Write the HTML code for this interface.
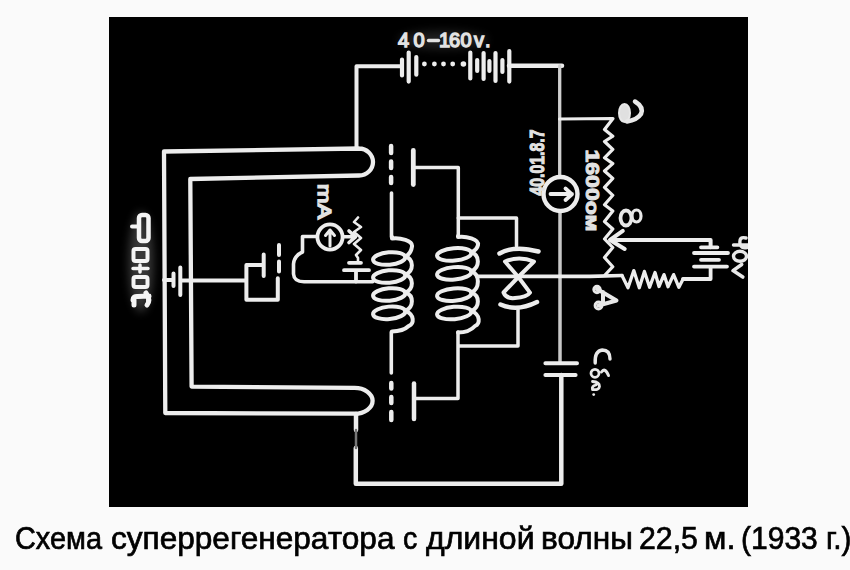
<!DOCTYPE html>
<html><head><meta charset="utf-8">
<style>
html,body{margin:0;padding:0;background:#fafafa;width:850px;height:570px;overflow:hidden}
#photo{position:absolute;left:109px;top:17px;width:639px;height:490px;background:#000}
svg{position:absolute;left:0;top:0}
.w{position:absolute;top:523px;font-family:"Liberation Sans",sans-serif;font-size:31.5px;white-space:nowrap;color:#000;line-height:1;transform-origin:0 0;-webkit-text-stroke:0.7px #000}
</style></head><body>
<div id="photo"></div>
<svg width="850" height="570" viewBox="0 0 850 570">
<g fill="none" stroke="#ededed" stroke-width="4" stroke-linecap="round" stroke-linejoin="round">
<path d="M356.5,149 V66.3 H401"/>
<path stroke-width="4.5" d="M509,65.8 H562"/><path stroke="#cfcfcf" stroke-width="3.3" d="M559.7,66 V176"/>
<path stroke="#c8c8c8" stroke-width="3.5" d="M560,211.5 V363"/><path stroke-width="4.5" d="M561.3,375 V483.8 H355.8 V448 M356,414 V430"/><path stroke="#777" stroke-width="2.5" d="M356,430 V448"/>
<path stroke-width="4.3" d="M359,148.5 L164,151.5 L165.3,413 L354.6,413.7 A18,12.9 0 0 0 354.6,387.9 L191.6,386.6 L190.3,179 L359,175.5 A14,13.5 0 0 0 359,148.5"/>
<path stroke-width="4.2" d="M402,59.5 V75.5 M408.7,52.5 V81.6 M416.3,57 V74.7 M470.3,52.5 V78.5 M477.2,60 V71 M483.6,53 V79 M489.4,61 V71 M495.5,53 V81 M502.4,60 V72 M509.3,51 V81.6"/>
<path stroke-width="4.5" d="M391.1,146 V153 M391.1,161.5 V168 M391.1,177 V183 "/><path stroke-width="3.6" d="M391.5,193 V237"/>
<path stroke-width="3.6" d="M391.3,332 V373"/><path stroke-width="4.5" d="M391.3,383 V388.5 M391.3,397 V403 M391.3,412 V420"/>
<path stroke-width="4.8" d="M413.3,150.5 V184.5"/><path stroke-width="3.5" d="M413.3,167.5 H458.3 V236"/>
<path stroke-width="3.5" d="M458.3,218 H516.5 V246.3"/>
<path stroke-width="4.5" d="M414,383.5 V419"/><path stroke-width="3.5" d="M414,398.4 H458 V346 H518 V309.5 M458,332 V346"/>
<path d="M392,237 V238.5 C400,237.5 413,240.5 412,246.5 C411,253.5 407.5,255.5 405.5,256.5"/>
<ellipse cx="389.2" cy="258.5" rx="16.2" ry="6.2" transform="rotate(-5 389.2 258.5)"/>
<path d="M405.5,256.5 C414,259.5 414,270.5 405.5,274.5"/>
<ellipse cx="389.2" cy="276.5" rx="16.2" ry="6.2" transform="rotate(-5 389.2 276.5)"/>
<path d="M405.5,274.5 C414,277.5 414,288.5 405.5,292.5"/>
<ellipse cx="389.2" cy="294.5" rx="16.2" ry="6.2" transform="rotate(-5 389.2 294.5)"/>
<path d="M405.5,292.5 C414,295.5 414,306.8 405.5,310.8"/>
<ellipse cx="389.2" cy="312.8" rx="16.2" ry="6.2" transform="rotate(-5 389.2 312.8)"/>
<path d="M405.5,310.8 C415,314.8 414,323.8 409,325.8 C404,330.5 396,331.5 392,331.5"/>

<path d="M458,236 V237 C466,236 479,239 478,245 C477,249.4 473.5,251.4 471.5,252.4"/>
<ellipse cx="454.2" cy="254.4" rx="17.2" ry="6.2" transform="rotate(-5 454.2 254.4)"/>
<path d="M471.5,252.4 C480,255.4 480,267.3 471.5,271.3"/>
<ellipse cx="454.2" cy="273.3" rx="17.2" ry="6.2" transform="rotate(-5 454.2 273.3)"/>
<path d="M471.5,271.3 C480,274.3 480,288.6 471.5,292.6"/>
<ellipse cx="454.2" cy="294.6" rx="17.2" ry="6.2" transform="rotate(-5 454.2 294.6)"/>
<path d="M471.5,292.6 C480,295.6 480,307 471.5,311"/>
<ellipse cx="454.2" cy="313.0" rx="17.2" ry="6.2" transform="rotate(-5 454.2 313.0)"/>
<path d="M471.5,311 C481,315 480,324 475,326 C470,331.6 462,332.6 458,332.6"/>

<path stroke-width="3.6" d="M478,276.4 H590 L622,275.5"/>
<path stroke-width="4.5" d="M499.5,253.5 Q514,245 538.5,251.5 M500.5,304.5 Q517,312 537,302"/>
<path stroke-width="4" d="M505,261.5 Q519,255.5 534,261.5 L518.3,277 Z M518.3,277 L503.5,292.5 Q506,299 515,298 Q527,297 530,292.6 Z"/>
<circle cx="560.5" cy="194" r="17" stroke-width="4.4"/>
<path stroke-width="3.8" d="M550.5,194 H572 M565.5,188.5 L572,194.3 L565.5,200"/>
<path stroke-width="3.2" d="M559.5,119 L613,118.5 L604.5,129.4 L612.8,136.2 L604.5,141.5 L612.8,149.4 L604.5,157.8 L612.8,163.6 L604.5,171 L612.8,178.4 L604.5,187.4 L612.8,195.3 L604.5,204.7 L612.8,211 L604.5,221.6 L612.8,229 L604.5,239 L612.8,247.5 L604.5,257.5 L612.8,266.7 L605,275"/>
<path d="M710.6,240 H610 M622.8,230.9 L610,240 L624.7,249 M710.6,240 V247.3"/>
<path stroke-width="3.8" d="M701,247.3 H717.4 M694,253 H728 M701,259.8 H719 M694,266.6 H727 M710.6,266.6 V279 H683"/>
<path stroke-width="3.3" d="M622,275.5 L628,287.8 L633.8,270.6 L639.3,287.8 L644.4,271.4 L649.6,287.3 L655,272.5 L659,286.5 L664,274.6 L668,286.8 L673.6,274.6 L678.9,287.3 L683,279.3"/>
<path stroke-width="4" d="M545.4,363.3 H577 M545.4,375 H575.6"/>
<path d="M164,280 H173.5 M173.5,273.6 V286 M180.3,267.5 V295 M180.3,280.5 H246.4 M262.5,265 H246.4 V299.7 H277.8 V278.2 M263.7,254.5 V276 M279,245 V255 M279,261.5 V271.5"/>
<circle cx="330" cy="237" r="12.6" stroke-width="3.8"/>
<path stroke-width="3" d="M330,246 V231 M325.5,235.5 L330,230 L334.5,235.5"/>
<path stroke-width="3.6" d="M317,236.5 H302.5 V252 Q294,256 293.5,264 V274 Q294,281.6 304,281.8 H372.7"/>
<path stroke-width="3.6" d="M343,236.8 H355 M349,231 L355.5,236.8 L349,242.5"/>
<path stroke-width="2.6" d="M358,217.5 L354,222 L361,227 L354,232 L361,238 L354,244 L361,250 L356,255 L358,258 V262.8"/>
<path stroke-width="3.8" d="M349,262.8 H361 M344,270.2 H369 M356,270.2 V281.6"/>
</g>
<g fill="#ededed"><circle cx="424.4" cy="64" r="2.4"/><circle cx="434.4" cy="64" r="2.4"/><circle cx="443.5" cy="64" r="2.4"/><circle cx="452.7" cy="64" r="2.4"/><circle cx="463.4" cy="64" r="2.8"/></g>
<defs><clipPath id="ph"><rect x="109" y="17" width="639" height="490"/></clipPath>
<filter id="glow" x="-50%" y="-50%" width="200%" height="200%"><feGaussianBlur stdDeviation="5"/></filter></defs>
<g clip-path="url(#ph)">
<ellipse cx="141" cy="262" rx="12" ry="50" fill="#fff" opacity="0.22" filter="url(#glow)"/>
<ellipse cx="443" cy="40" rx="45" ry="9" fill="#fff" opacity="0.12" filter="url(#glow)"/>
<g font-family="Liberation Sans" font-weight="bold" fill="#e2e2e2" stroke="#e2e2e2" stroke-width="0.6" text-anchor="middle" dominant-baseline="central">
<text x="398 413.5 439 449 460.5 474 485" y="39.5" text-anchor="start" font-size="20" font-weight="normal" stroke-width="1.4">40160v.</text>
<path d="M428.5,40.5 H438.5" stroke="#e2e2e2" stroke-width="3.4" stroke-linecap="round"/>
<text transform="translate(323.8,201.5) rotate(90) scale(1,0.8)" font-size="22" font-weight="normal" stroke-width="1.8" textLength="35" lengthAdjust="spacingAndGlyphs">mA</text>
<text transform="translate(536.2,162.5) rotate(-90)" font-size="21" stroke-width="1.1" textLength="66" lengthAdjust="spacingAndGlyphs">40.01.8.7</text>
<text transform="translate(592,190.5) rotate(90)" font-size="19" stroke-width="1" textLength="82" lengthAdjust="spacingAndGlyphs">1600ом</text>
</g>
<g fill="none" stroke="#e8e8e8" stroke-linecap="round" stroke-linejoin="round">
<!-- C label -->
<ellipse cx="624.5" cy="113" rx="5.5" ry="9" fill="#e0e0e0" stroke-width="2"/>
<path stroke-width="4.5" d="M635,101.5 Q644,107 641,114 Q637,120 627,121.5"/>
<!-- B label -->
<ellipse cx="626" cy="218" rx="5.5" ry="7.5" stroke-width="3.8"/>
<ellipse cx="636.5" cy="216" rx="4.5" ry="6" stroke-width="3.2"/>
<!-- A label -->
<path stroke-width="4" d="M597,289 L616.5,300.5 L598.5,305.5 M603,292 V302"/>
<circle cx="597" cy="289.5" r="3.2" stroke-width="3"/>
<circle cx="598.5" cy="305.5" r="3.4" stroke-width="3"/>
<!-- Cбл -->
<path stroke-width="3.4" d="M595.2,363 Q594.5,351 602.3,350 Q610,350 610,359"/>
<circle cx="595" cy="373.3" r="4" stroke-width="2.8"/>
<path stroke-width="3" d="M601.5,372 Q605,367 608.5,375.5"/>
<path stroke-width="2.8" d="M592.5,381.5 Q599.5,382 599.5,386.5 Q599,390.5 592.5,389.5 Q591.5,386 596,385"/>
<circle cx="593.7" cy="394.6" r="1.4" fill="#e8e8e8" stroke="none"/>
<!-- 40v -->
<path stroke-width="3.4" d="M746,238 Q739,236 740,243.5 Q741,249 747,247.5 M733.5,245 H748"/>
<ellipse cx="740" cy="256.3" rx="6.5" ry="5" stroke-width="3.4"/>
<path stroke-width="3.6" d="M741.7,264.5 L733,270.6 L742.8,277"/>
<!-- Рамка -->
<g stroke="#f4f4f4">
<rect x="139" y="215" width="9.5" height="26" rx="3" stroke-width="4.5"/>
<path stroke-width="4" d="M132,226.5 H138"/>
<rect x="133.5" y="249" width="14" height="12" rx="2" stroke-width="4"/>
<path stroke-width="3.5" d="M133,268.5 H148 M140,265 V272"/>
<rect x="133.5" y="277" width="14" height="10" rx="2" stroke-width="4"/>
<path stroke-width="5" d="M133,300 Q133,296 138,296.5 L149,296 M146,293 Q151,300 147,305 M134,299 V305"/>
</g>
</g>
</g>

</svg>
<span class="w" style="left:14.87px;transform:scale(0.9172,1)">Схема</span><span class="w" style="left:110.9px;transform:scale(1.0021,1)">суперрегенератора</span><span class="w" style="left:403.49px;transform:scale(0.9071,1)">с</span><span class="w" style="left:425.6px;transform:scale(1.0152,1)">длиной</span><span class="w" style="left:541.39px;transform:scale(1.0034,1)">волны</span><span class="w" style="left:639.38px;transform:scale(0.9603,1)">22,5</span><span class="w" style="left:704.03px;transform:scale(1.0346,1)">м.</span><span class="w" style="left:741.49px;transform:scale(0.9532,1)">(1933</span><span class="w" style="left:826.01px;transform:scale(0.9435,1)">г.)</span>
</body></html>
